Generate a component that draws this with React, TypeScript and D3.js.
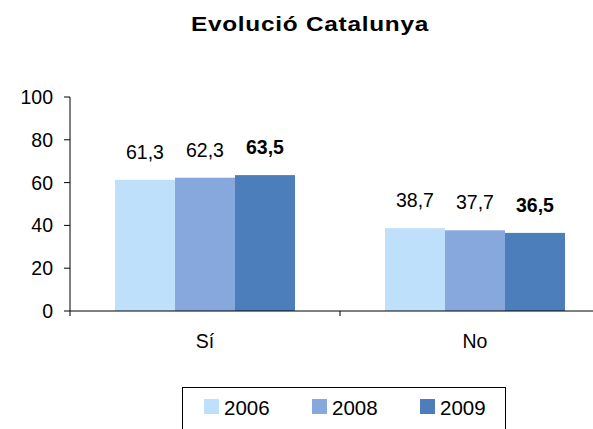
import * as d3 from "d3";

const categories = ["Sí", "No"];
const years = ["2006", "2008", "2009"];
const values2006 = [61.3, 38.7];
const values2008 = [62.3, 37.7];
const values2009 = [63.5, 36.5];
const yTicks = [0, 20, 40, 60, 80, 100];
const colors = ["#BFE0FA", "#86A8DC", "#4C7EBB"];

const FONT = "'Liberation Sans', Arial, sans-serif";
const W = 593, H = 429;

export default function App() {
  const series = [values2006, values2008, values2009];
  const x = d3.scaleBand<string>().domain(categories).range([70, 610]);
  const xi = d3.scaleBand<string>().domain(years).range([0, x.bandwidth()]).paddingInner(0).paddingOuter(0.75);
  const y = d3.scaleLinear().domain([0, 100]).range([311, 97]);
  const fmt = (v: number) => v.toFixed(1).replace(".", ",");

  return (
    <svg width={W} height={H} style={{ position: "absolute", left: 0, top: 0, background: "#fff" }} fontFamily={FONT}>
      {/* title: slightly wide lettering like the source */}
      <text transform="translate(310,31) scale(1.22,1)" textAnchor="middle" fontSize={20} fontWeight="bold" letterSpacing={0.6}>
        Evolució Catalunya
      </text>

      {/* bars */}
      {categories.map((c, ci) =>
        years.map((yr, si) => {
          const v = series[si][ci];
          const bx = (x(c) ?? 0) + (xi(yr) ?? 0);
          return (
            <g key={c + yr}>
              <rect x={bx} y={y(v)} width={xi.bandwidth()} height={y(0) - y(v)} fill={colors[si]} />
              <text x={bx + xi.bandwidth() / 2} y={y(v) - 21} textAnchor="middle" fontSize={19.5}
                fontWeight={si === 2 ? "bold" : "normal"}>{fmt(v)}</text>
            </g>
          );
        })
      )}

      {/* y axis */}
      <line x1={70} x2={70} y1={y(100)} y2={y(0) + 5} stroke="#000" strokeWidth={1} />
      {yTicks.map((t) => (
        <g key={t}>
          <line x1={64} x2={70} y1={y(t)} y2={y(t)} stroke="#000" />
          <text x={53} y={y(t) + 7} textAnchor="end" fontSize={19.5}>{t}</text>
        </g>
      ))}

      {/* x axis */}
      <line x1={70} x2={610} y1={y(0)} y2={y(0)} stroke="#000" />
      {categories.map((c) => (
        <g key={c}>
          <line x1={(x(c) ?? 0) + x.bandwidth()} x2={(x(c) ?? 0) + x.bandwidth()} y1={y(0)} y2={y(0) + 5} stroke="#000" />
          <text x={(x(c) ?? 0) + x.bandwidth() / 2} y={348} textAnchor="middle" fontSize={19.5}>{c}</text>
        </g>
      ))}

      {/* legend */}
      <rect x={182.5} y={387.5} width={323} height={60} fill="none" stroke="#000" />
      {years.map((yr, i) => (
        <g key={yr} transform={`translate(${204 + i * 108},0)`}>
          <rect x={0} y={399} width={15} height={15} fill={colors[i]} />
          <text x={20} y={415} fontSize={20.5}>{yr}</text>
        </g>
      ))}
    </svg>
  );
}
